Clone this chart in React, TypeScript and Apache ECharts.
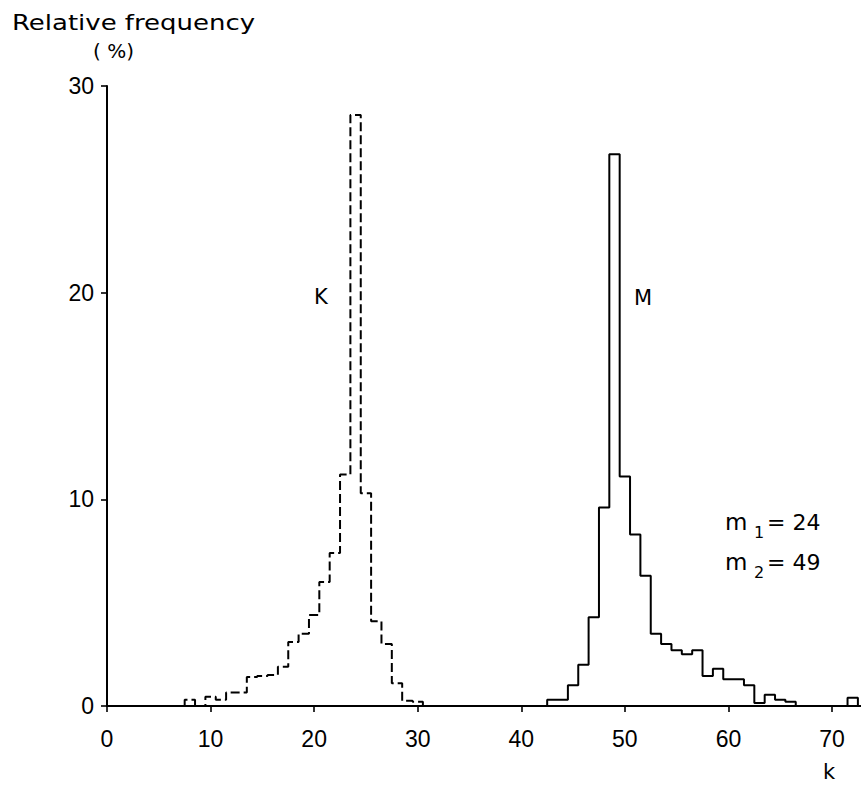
import React, { useEffect, useRef } from "react";
import * as echarts from "echarts";

// K distribution (dashed), bins centred on integer k
const kBinsK = [8, 9, 10, 11, 12, 13, 14, 15, 16, 17, 18, 19, 20, 21, 22, 23, 24, 25, 26, 27, 28, 29, 30];
const valuesK = [0.3, 0, 0.45, 0.3, 0.65, 0.65, 1.4, 1.45, 1.5, 1.9, 3.1, 3.5, 4.4, 6.0, 7.4, 11.2, 28.6, 10.3, 4.1, 3.0, 1.1, 0.25, 0.2];

// M distribution (solid)
const kBinsM = [43, 44, 45, 46, 47, 48, 49, 50, 51, 52, 53, 54, 55, 56, 57, 58, 59, 60, 61, 62, 63, 64, 65, 66, 67, 68, 69, 70, 71, 72];
const valuesM = [0.3, 0.3, 1.0, 2.0, 4.3, 9.6, 26.7, 11.1, 8.3, 6.3, 3.5, 3.0, 2.7, 2.5, 2.7, 1.45, 1.8, 1.3, 1.3, 1.0, 0.15, 0.55, 0.3, 0.2, 0, 0, 0, 0, 0, 0.4];

const xTicks = [0, 10, 20, 30, 40, 50, 60, 70];
const yTicks = [0, 10, 20, 30];

function outline(bins: number[], vals: number[]): number[][] {
  const pts: number[][] = [];
  pts.push([bins[0] - 0.5, 0]);
  bins.forEach((k, i) => {
    pts.push([k - 0.5, vals[i]]);
    pts.push([k + 0.5, vals[i]]);
  });
  pts.push([bins[bins.length - 1] + 0.5, 0]);
  return pts;
}

export default function App() {
  const ref = useRef<HTMLDivElement>(null);
  useEffect(() => {
    if (!ref.current) return;
    const chart = echarts.init(ref.current, undefined, { renderer: "svg" });
    const tickFont = "Liberation Sans";
    const txtFont = "DejaVu Sans";
    const txt = (text: string, x: number, y: number, fontSize: number, align = "left") => ({
      type: "text",
      x,
      y,
      style: { text, fontSize, fontFamily: txtFont, fill: "#000", textAlign: align, textVerticalAlign: "middle" },
    });
    chart.setOption({
      animation: false,
      backgroundColor: "#fff",
      grid: { left: 107, right: 0, top: 86, bottom: 80, containLabel: false },
      xAxis: {
        type: "value",
        min: 0,
        max: 72.8,
        interval: 10,
        splitLine: { show: false },
        axisLine: { show: true, onZero: false, lineStyle: { color: "#000", width: 2 } },
        axisTick: { show: true, customValues: xTicks, length: 6, lineStyle: { color: "#000", width: 1.6 } },
        axisLabel: {
          customValues: xTicks,
          margin: 21,
          fontSize: 23,
          color: "#000",
          fontFamily: tickFont,
          formatter: (v: number) => (xTicks.indexOf(v) >= 0 ? String(v) : ""),
        },
      },
      yAxis: {
        type: "value",
        min: 0,
        max: 30,
        interval: 10,
        splitLine: { show: false },
        axisLine: { show: true, lineStyle: { color: "#000", width: 2 } },
        axisTick: { show: true, customValues: yTicks, length: 6, lineStyle: { color: "#000", width: 1.6 } },
        axisLabel: { customValues: yTicks, margin: 13, fontSize: 23, color: "#000", fontFamily: tickFont },
      },
      series: [
        {
          type: "line",
          name: "K",
          data: outline(kBinsK, valuesK),
          symbol: "none",
          lineStyle: { color: "#000", width: 2, type: [9, 4] },
          z: 3,
        },
        {
          type: "line",
          name: "M",
          data: outline(kBinsM, valuesM),
          symbol: "none",
          lineStyle: { color: "#000", width: 2, type: "solid" },
          z: 3,
        },
      ],
      graphic: [
        {
          type: "text",
          x: 12,
          y: 12,
          scaleX: 1.18,
          style: { text: "Relative frequency", fontSize: 22, fontFamily: txtFont, fill: "#000", textAlign: "left", textVerticalAlign: "top" },
        },
        txt("( %)", 93, 51, 20),
        txt("K", 321, 297, 21, "center"),
        txt("M", 643, 298, 21, "center"),
        txt("m", 725, 522, 23),
        txt("1", 754, 532, 16),
        txt("= 24", 767, 522, 22),
        txt("m", 725, 562, 23),
        txt("2", 754, 572, 16),
        txt("= 49", 767, 562, 22),
        txt("k", 829, 772, 21, "center"),
      ],
    });
    return () => chart.dispose();
  }, []);
  return <div ref={ref} style={{ position: "fixed", left: 0, top: 0, width: 861, height: 786 }} />;
}
